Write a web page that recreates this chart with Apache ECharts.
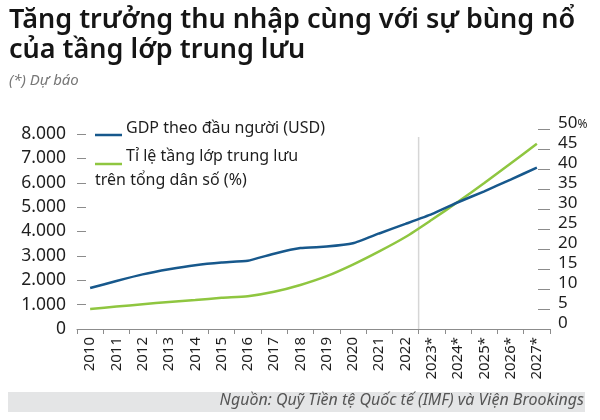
<!DOCTYPE html>
<html>
<head>
<meta charset="utf-8">
<script src="https://cdn.jsdelivr.net/npm/echarts@6/dist/echarts.min.js"></script>
<style>
html,body{margin:0;padding:0;background:#fff;}
#c{width:600px;height:420px;}
</style>
</head>
<body>
<div id="c"></div>
<script>
var years = ['2010','2011','2012','2013','2014','2015','2016','2017','2018','2019','2020','2021','2022','2023*','2024*','2025*','2026*','2027*'];
var gdpPerCapita = [1680, 1970, 2240, 2450, 2620, 2730, 2800, 3090, 3320, 3380, 3515, 3920, 4310, 4710, 5200, 5650, 6130, 6620];
var middleClassShare = [5.0, 5.6, 6.2, 6.75, 7.25, 7.8, 8.2, 9.3, 11.0, 13.2, 16.1, 19.4, 23.0, 27.3, 31.8, 36.5, 41.4, 46.3];
var leftTicks = [0, 8000, 1000];
var rightTicks = [0, 50, 5];
var forecastStart = '2023*';

var FONT = 'Noto Sans';
var BLUE = '#17588c';
var GREEN = '#8fc640';

var chart = echarts.init(document.getElementById('c'), null, {renderer: 'canvas'});

var option = {
  backgroundColor: '#fff',
  animation: false,
  textStyle: {fontFamily: FONT},
  grid: [
    {left: 77, right: 50, top: 134, bottom: 91},
    {left: 77, right: 50, top: 129, bottom: 91}
  ],
  xAxis: [
    {
      type: 'category', gridIndex: 0, data: years, boundaryGap: true,
      axisLine: {lineStyle: {color: '#8c8c8c', width: 1}},
      axisTick: {show: true, length: 5, lineStyle: {color: '#8c8c8c'}},
      axisLabel: {rotate: 90, fontSize: 15, color: '#1e1e1e', margin: 8, fontFamily: FONT, interval: 0}
    },
    {type: 'category', gridIndex: 1, data: years, boundaryGap: true, show: false}
  ],
  yAxis: [
    {
      type: 'value', gridIndex: 0, position: 'left',
      min: leftTicks[0], max: leftTicks[1], interval: leftTicks[2],
      axisLine: {show: false},
      axisTick: {show: true, inside: true, length: 9, lineStyle: {color: '#8c8c8c'}},
      splitLine: {show: false},
      axisLabel: {
        fontSize: 17.5, color: '#1e1e1e', margin: 11, fontFamily: FONT,
        padding: [0, 0, 10, 0],
        formatter: function (v) { return String(v).replace(/\B(?=(\d{3})+(?!\d))/g, '.'); }
      }
    },
    {
      type: 'value', gridIndex: 1, position: 'right',
      min: rightTicks[0], max: rightTicks[1], interval: rightTicks[2],
      axisLine: {show: false},
      axisTick: {show: true, inside: true, length: 12, lineStyle: {color: '#8c8c8c'}},
      splitLine: {show: false},
      axisLabel: {
        fontSize: 17, color: '#1e1e1e', margin: 8, fontFamily: FONT,
        padding: [0, 0, 12, 0],
        formatter: function (v) { return v === rightTicks[1] ? v + '{p|%}' : String(v); },
        rich: {p: {fontSize: 12, color: '#1e1e1e', fontFamily: FONT, padding: [3, 0, 0, 0]}}
      }
    }
  ],
  series: [
    {
      name: 'GDP theo đầu người (USD)', type: 'line', xAxisIndex: 0, yAxisIndex: 0,
      data: gdpPerCapita, showSymbol: false, smooth: 0.15,
      lineStyle: {color: BLUE, width: 2.5}, itemStyle: {color: BLUE}, z: 3
    },
    {
      name: 'Tỉ lệ tầng lớp trung lưu trên tổng dân số (%)', type: 'line', xAxisIndex: 1, yAxisIndex: 1,
      data: middleClassShare, showSymbol: false, smooth: 0.25,
      lineStyle: {color: GREEN, width: 2.5}, itemStyle: {color: GREEN}, z: 2
    }
  ],
  graphic: [
    {type: 'text', left: 9, top: 5, style: {text: 'Tăng trưởng thu nhập cùng với sự bùng nổ\ncủa tầng lớp trung lưu', font: '600 27px "' + FONT + '"', fill: '#151515', lineHeight: 30}},
    {type: 'text', left: 9, top: 73, style: {text: '(*) Dự báo', font: 'italic 15px "' + FONT + '"', fill: '#777'}},
    {type: 'line', shape: {x1: 95, y1: 135, x2: 122, y2: 135}, style: {stroke: BLUE, lineWidth: 2.5}},
    {type: 'text', left: 126, top: 120, style: {text: 'GDP theo đầu người (USD)', font: '16px "' + FONT + '"', fill: '#1e1e1e'}},
    {type: 'line', shape: {x1: 95, y1: 164, x2: 122, y2: 164}, style: {stroke: GREEN, lineWidth: 2.5}},
    {type: 'text', left: 126, top: 148, style: {text: 'Tỉ lệ tầng lớp trung lưu', font: '16px "' + FONT + '"', fill: '#1e1e1e'}},
    {type: 'text', left: 95, top: 172, style: {text: 'trên tổng dân số (%)', font: '16px "' + FONT + '"', fill: '#1e1e1e'}},
    {type: 'rect', shape: {x: 8, y: 392, width: 577, height: 20}, style: {fill: '#e4e5e6'}},
    {type: 'text', right: 16, top: 392, style: {text: 'Nguồn: Quỹ Tiền tệ Quốc tế (IMF) và Viện Brookings', font: 'italic 16px "' + FONT + '"', fill: '#555'}}
  ]
};
chart.setOption(option);

// forecast divider between last actual year and first forecast year
var idx = years.indexOf(forecastStart);
var xa = chart.convertToPixel({xAxisIndex: 0}, years[idx - 1]);
var xb = chart.convertToPixel({xAxisIndex: 0}, years[idx]);
var xm = (xa + xb) / 2;
var yTop = chart.convertToPixel({yAxisIndex: 0}, leftTicks[1]) + 3;
var yBot = chart.convertToPixel({yAxisIndex: 0}, leftTicks[0]);
option.graphic.push({type: 'line', z: 1, shape: {x1: xm, y1: yTop, x2: xm, y2: yBot}, style: {stroke: '#d6d6d6', lineWidth: 1.5}});
chart.setOption({graphic: option.graphic});
</script>
</body>
</html>
